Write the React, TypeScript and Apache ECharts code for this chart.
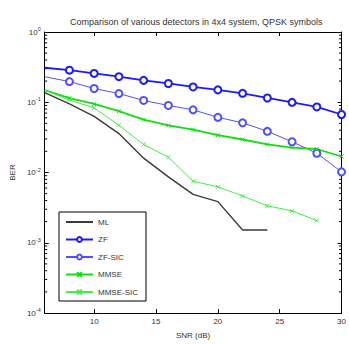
import React, { useEffect, useRef } from "react";
import * as echarts from "echarts";

const snr = [6, 8, 10, 12, 14, 16, 18, 20, 22, 24, 26, 28, 30];
const mlSnr = [6, 8, 10, 12, 14, 16, 18, 20, 22, 24];
const mmseSicSnr = [6, 8, 10, 12, 14, 16, 18, 20, 22, 24, 26, 28];

const berML = [0.137, 0.0945, 0.063, 0.0358, 0.016, 0.00865, 0.00488, 0.00385, 0.00152, 0.00152];
const berZF = [0.31, 0.286, 0.257, 0.231, 0.205, 0.185, 0.165, 0.15, 0.134, 0.115, 0.0998, 0.0858, 0.0669];
const berZFSIC = [0.231, 0.197, 0.157, 0.133, 0.106, 0.09, 0.078, 0.061, 0.051, 0.0386, 0.0274, 0.0188, 0.0102];
const berMMSE = [0.1486, 0.1148, 0.0945, 0.0746, 0.0564, 0.0469, 0.0408, 0.034, 0.0295, 0.0251, 0.0226, 0.0216, 0.0169];
const berMMSESIC = [0.1486, 0.1076, 0.083, 0.0469, 0.0251, 0.0165, 0.0075, 0.00625, 0.00463, 0.00335, 0.00285, 0.00207];

const xTicks = [10, 15, 20, 25, 30];
const minorTickValues: number[] = [];
for (let e = -4; e < 0; e++) {
  for (let m = 2; m <= 9; m++) minorTickValues.push(m * Math.pow(10, e));
}

const xMark = "path://M0,0L10,10M10,0L0,10";
const txt = "#333";
const font = "'Liberation Sans', Arial, sans-serif";

function pts(xs: number[], ys: number[], hideFirst: boolean) {
  return ys.map((y, i) =>
    hideFirst && i === 0 ? { value: [xs[i], y], symbol: "none" } : { value: [xs[i], y] }
  );
}

export default function App() {
  const ref = useRef<HTMLDivElement>(null);
  useEffect(() => {
    if (!ref.current) return;
    const chart = echarts.init(ref.current, undefined, { renderer: "svg" });
    const yLabel = {
      fontFamily: font,
      color: txt,
      margin: 4,
      formatter: (v: number) => {
        const e = Math.round(Math.log10(v));
        return "{b|10}{s|" + e + "}";
      },
      rich: {
        b: { fontSize: 8, fontFamily: font, color: txt },
        s: { fontSize: 5.5, fontFamily: font, color: txt, verticalAlign: "bottom", padding: [0, 0, 6, 0] },
      },
    };
    chart.setOption({
      animation: false,
      backgroundColor: "#fff",
      textStyle: { fontFamily: font },
      title: {
        text: "Comparison of various detectors in 4x4 system, QPSK symbols",
        left: 65,
        top: 12,
        textStyle: { fontSize: 9, fontWeight: "normal", color: txt, fontFamily: font },
      },
      grid: { left: 43, right: 4, top: 32, bottom: 27, show: false },
      legend: {
        orient: "vertical",
        left: 59,
        top: 212,
        itemWidth: 27,
        itemHeight: 6,
        itemGap: 9.5,
        padding: [6, 8, 5, 6],
        borderColor: "#000",
        borderWidth: 1,
        backgroundColor: "#fff",
        textStyle: { fontSize: 8, color: txt, fontFamily: font },
        data: ["ML", "ZF", "ZF-SIC", "MMSE", "MMSE-SIC"],
      },
      xAxis: [
        {
          type: "value",
          min: 6,
          max: 30,
          name: "SNR (dB)",
          nameLocation: "middle",
          nameGap: 18,
          nameTextStyle: { fontSize: 8, color: txt, fontFamily: font },
          axisLine: { show: true, lineStyle: { color: "#000", width: 1 } },
          axisTick: { show: true, inside: true, length: 4, customValues: xTicks, lineStyle: { color: "#000" } },
          axisLabel: { customValues: xTicks, fontSize: 8, color: txt, margin: 4, fontFamily: font },
          splitLine: { show: false },
        },
        {
          type: "value",
          min: 6,
          max: 30,
          position: "top",
          axisLine: { show: true, lineStyle: { color: "#000", width: 1 } },
          axisTick: { show: true, inside: true, length: 4, customValues: xTicks, lineStyle: { color: "#000" } },
          axisLabel: { show: false },
          splitLine: { show: false },
        },
      ],
      yAxis: [
        {
          type: "log",
          logBase: 10,
          min: 1e-4,
          max: 1,
          name: "BER",
          nameLocation: "middle",
          nameGap: 24,
          nameTextStyle: { fontSize: 8, color: txt, fontFamily: font },
          axisLine: { show: true, lineStyle: { color: "#000", width: 1 } },
          axisTick: { show: true, inside: true, length: 4, lineStyle: { color: "#000" } },
          axisLabel: yLabel,
          splitLine: { show: false },
        },
        {
          type: "log",
          logBase: 10,
          min: 1e-4,
          max: 1,
          position: "right",
          axisLine: { show: true, lineStyle: { color: "#000", width: 1 } },
          axisTick: { show: true, inside: true, length: 4, lineStyle: { color: "#000" } },
          axisLabel: { show: false },
          splitLine: { show: false },
        },
      ],
      series: [
        {
          type: "custom",
          name: "minorTicks",
          silent: true,
          clip: false,
          data: minorTickValues.map((v) => [6, v]),
          renderItem: (params: any, api: any) => {
            const v = api.value(1);
            const l = api.coord([6, v]);
            const r = api.coord([30, v]);
            const st = { stroke: "#000", lineWidth: 1 };
            return {
              type: "group",
              children: [
                { type: "line", shape: { x1: l[0], y1: l[1], x2: l[0] + 2.5, y2: l[1] }, style: st },
                { type: "line", shape: { x1: r[0] - 2.5, y1: r[1], x2: r[0], y2: r[1] }, style: st },
              ],
            };
          },
        },
        {
          name: "ML",
          type: "line",
          data: pts(mlSnr, berML, false),
          symbol: "circle",
          showSymbol: false,
          lineStyle: { color: "#3a3a3a", width: 1.4 },
          itemStyle: { color: "rgba(0,0,0,0)", borderColor: "rgba(0,0,0,0)", borderWidth: 0 },
        },
        {
          name: "ZF",
          type: "line",
          data: pts(snr, berZF, true),
          symbol: "emptyCircle",
          symbolSize: 7,
          lineStyle: { color: "#1a1aff", width: 1.8 },
          itemStyle: { color: "#1a1aff", borderColor: "#1a1aff", borderWidth: 1.4 },
        },
        {
          name: "ZF-SIC",
          type: "line",
          data: pts(snr, berZFSIC, true),
          symbol: "emptyCircle",
          symbolSize: 7,
          lineStyle: { color: "#5050ff", width: 1 },
          itemStyle: { color: "#5050ff", borderColor: "#5050ff", borderWidth: 1.3 },
        },
        {
          name: "MMSE",
          type: "line",
          data: pts(snr, berMMSE, true),
          symbol: xMark,
          symbolSize: 4,
          lineStyle: { color: "#11dd11", width: 1.8 },
          itemStyle: { color: "#11dd11", borderColor: "#11dd11", borderWidth: 1 },
        },
        {
          name: "MMSE-SIC",
          type: "line",
          data: pts(mmseSicSnr, berMMSESIC, true),
          symbol: xMark,
          symbolSize: 4,
          lineStyle: { color: "#44ee44", width: 1 },
          itemStyle: { color: "#44ee44", borderColor: "#44ee44", borderWidth: 1 },
        },
      ],
    });
    return () => chart.dispose();
  }, []);
  return <div ref={ref} style={{ width: 349, height: 344, position: "absolute", left: 0, top: 0 }} />;
}
